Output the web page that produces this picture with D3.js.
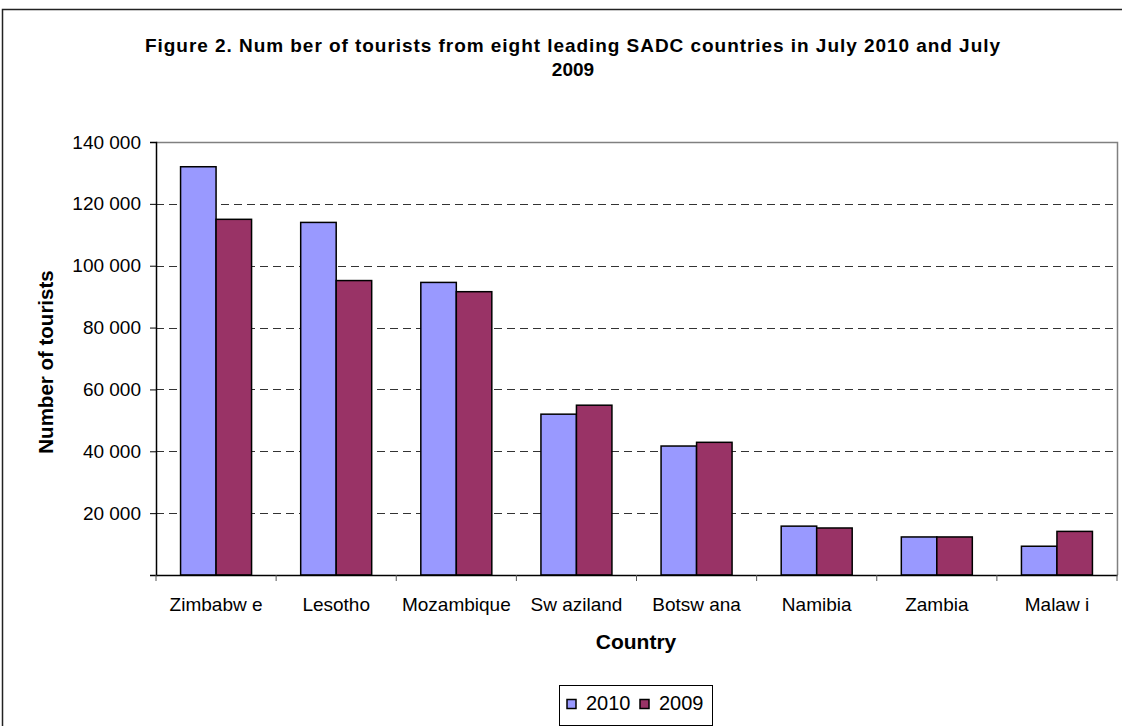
<!DOCTYPE html>
<html>
<head>
<meta charset="utf-8">
<script src="https://cdn.jsdelivr.net/npm/d3@7"></script>
<style>
body{margin:0;background:#fff;}
text{font-family:"Liberation Sans",Arial,sans-serif;fill:#000;}
</style>
</head>
<body>
<script>
// data
var countries=["Zimbabw e","Lesotho","Mozambique","Sw aziland","Botsw ana","Namibia","Zambia","Malaw i"];
var years=["2010","2009"];
var values2010=[132000,114000,94600,52000,41700,15800,12300,9300];
var values2009=[115000,95200,91600,54900,42900,15200,12300,14100];
var yTicks=[0,20000,40000,60000,80000,100000,120000,140000];
var colors=["#9999ff","#993366"];

var W=1122,H=726;
var svg=d3.select('body').append('svg')
    .attr('width',W)
    .attr('height',H);

// outer frame
svg.append("rect").attr("x",2.5).attr("y",9.5).attr("width",W).attr("height",H)
    .attr("fill","none").attr("stroke","#222").attr("stroke-width",1.5);

var pLeft=156,pRight=1117,pTop=142,pBottom=575;

var x=d3.scaleBand().domain(countries).range([pLeft,pRight]);
var y=d3.scaleLinear().domain([0,140000]).range([pBottom,pTop]);

var fmt=function(d){return d===0?"":d3.format(",")(d).replace(/,/g," ");};

// gridlines
svg.append("g").selectAll("line").data(yTicks.filter(function(d){return d>0&&d<140000;}))
    .enter().append("line")
    .attr("x1",pLeft).attr("x2",pRight)
    .attr("y1",function(d){return Math.round(y(d))+0.5;})
    .attr("y2",function(d){return Math.round(y(d))+0.5;})
    .attr("stroke","#333").attr("stroke-dasharray","8,5");

// plot top/right border
svg.append("path")
    .attr("d","M"+pLeft+","+(pTop+0.5)+"H"+(pRight+0.5)+"V"+pBottom)
    .attr("fill","none").attr("stroke","#808080").attr("stroke-width",1.5);

// bars
var barW=35.5;
var series=[values2010,values2009];
series.forEach(function(vals,si){
  svg.append("g").selectAll("rect").data(vals).enter().append("rect")
    .attr("x",function(d,i){return x(countries[i])+x.bandwidth()/2-barW+si*barW;})
    .attr("y",function(d){return y(d);})
    .attr("width",barW)
    .attr("height",function(d){return pBottom-y(d);})
    .attr("fill",colors[si])
    .attr("stroke","#000").attr("stroke-width",1.5);
});

// y axis
var yAxis=svg.append("g").attr("transform","translate("+pLeft+",0)")
    .call(d3.axisLeft(y).tickValues(yTicks).tickFormat(fmt).tickSize(6).tickPadding(9));
yAxis.select(".domain").attr("stroke","#000").attr("stroke-width",1.5);
yAxis.selectAll(".tick line").attr("stroke","#000");
yAxis.selectAll("text").style("font-size","19px").style("font-family","Liberation Sans, Arial, sans-serif");

// x axis
var xAxis=svg.append("g").attr("transform","translate(0,"+pBottom+")")
    .call(d3.axisBottom(x).tickSize(0).tickPadding(22.5));
xAxis.select(".domain").attr("stroke","#000").attr("stroke-width",1.5);
xAxis.selectAll("text").style("font-size","19px").style("font-family","Liberation Sans, Arial, sans-serif");
// category separators
svg.append("g").selectAll("line").data(countries.concat(["end"])).enter().append("line")
    .attr("x1",function(d,i){return pLeft+i*x.step();})
    .attr("x2",function(d,i){return pLeft+i*x.step();})
    .attr("y1",pBottom).attr("y2",pBottom+6)
    .attr("stroke","#555");

// title
svg.append("text").attr("x",572.5).attr("y",51.5).attr("text-anchor","middle")
    .attr("textLength",855).attr("lengthAdjust","spacing")
    .style("font-size","19px").style("font-weight","bold")
    .text("Figure 2. Num ber of tourists from eight leading SADC countries in July 2010 and July");
svg.append("text").attr("x",573).attr("y",75.5).attr("text-anchor","middle")
    .style("font-size","19px").style("font-weight","bold")
    .text("2009");

// axis titles
svg.append("text").attr("transform","translate(53,362) rotate(-90)").attr("text-anchor","middle")
    .style("font-size","20.5px").style("font-weight","bold").text("Number of tourists");
svg.append("text").attr("x",636).attr("y",649).attr("text-anchor","middle")
    .style("font-size","21px").style("font-weight","bold").text("Country");

// legend
var lg=svg.append("g").attr("transform","translate(559,685)");
lg.append("rect").attr("x",0.5).attr("y",0.5).attr("width",153).attr("height",40)
    .attr("fill","#fff").attr("stroke","#000");
years.forEach(function(yr,i){
  var gx=8+i*73;
  lg.append("rect").attr("x",gx).attr("y",14.5).attr("width",9).attr("height",9)
    .attr("fill",colors[i]).attr("stroke","#000").attr("stroke-width",1.5);
  lg.append("text").attr("x",gx+19).attr("y",25).style("font-size","20px").text(yr);
});
</script>
</body>
</html>
